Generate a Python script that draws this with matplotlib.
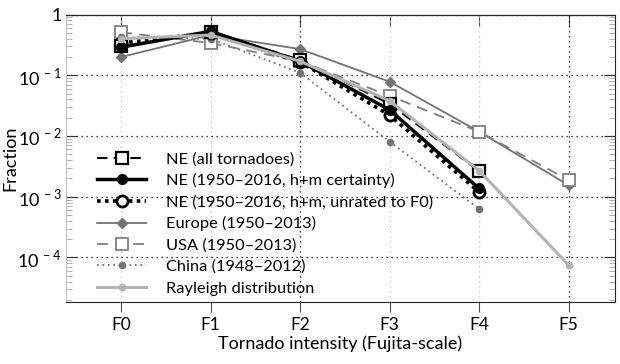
import numpy as np
import matplotlib.pyplot as plt

plt.rcParams['font.family'] = ['Lato', 'DejaVu Sans']
plt.rcParams['mathtext.fontset'] = 'custom'
plt.rcParams['mathtext.rm'] = 'Lato'

# Fujita-scale categories
categories = ['F0', 'F1', 'F2', 'F3', 'F4', 'F5']

# fractions
ne_all = [0.30, 0.52, 0.179, 0.034, 0.00265]
ne_hm = [0.29, 0.53, 0.17, 0.027, 0.00137]
ne_unrated = [0.34, 0.50, 0.165, 0.022, 0.0012]
europe = [0.20, 0.46, 0.27, 0.0785, 0.0118, 0.00155]
usa = [0.51, 0.34, 0.17, 0.046, 0.0118, 0.00188]
china = [0.42, 0.40, 0.11, 0.0081, 0.00063]
rayleigh = [0.40, 0.46, 0.17, 0.038, 0.0027, 0.000075]

labels = ['NE (all tornadoes)',
          'NE (1950\u20132016, h+m certainty)',
          'NE (1950\u20132016, h+m, unrated to F0)',
          'Europe (1950\u20132013)',
          'USA (1950\u20132013)',
          'China (1948\u20132012)',
          'Rayleigh distribution']

fig = plt.figure(figsize=(6.2, 3.64), dpi=100)
ax = fig.add_axes([0.106, 0.170, 0.886, 0.790])

x = np.arange(len(categories))

ax.plot(x[:5], ne_all, color='black', ls=(0, (5, 3)), lw=1.5, marker='s',
        ms=9, mfc='white', mec='black', mew=1.6, label=labels[0], zorder=5)
ax.plot(x[:5], ne_hm, color='black', ls='-', lw=2.5, marker='o',
        ms=7, mfc='black', mec='black', label=labels[1], zorder=6)
ax.plot(x[:5], ne_unrated, color='black', ls=(0, (1, 1.2)), lw=2.6, marker='o',
        ms=8, mfc='white', mec='black', mew=2, label=labels[2], zorder=4)
ax.plot(x, europe, color='0.45', ls='-', lw=1.3, marker='D',
        ms=5, mfc='0.45', mec='0.45', label=labels[3], zorder=3)
ax.plot(x, usa, color='0.5', ls=(0, (6, 4)), lw=1.3, marker='s',
        ms=8, mfc='white', mec='0.5', mew=1.3, label=labels[4], zorder=3)
ax.plot(x[:5], china, color='0.45', ls=(0, (1, 2)), lw=1.3, marker='o',
        ms=4.5, mfc='0.45', mec='0.45', label=labels[5], zorder=3)
ax.plot(x, rayleigh, color='0.7', ls='-', lw=2.2, marker='o',
        ms=4.5, mfc='0.7', mec='0.7', label=labels[6], zorder=7)

ax.set_yscale('log')
ax.set_ylim(10 ** -4.735, 1)
ax.set_xlim(-0.62, 5.52)
ax.set_xticks(x)
ax.set_xticklabels(categories)
ax.set_yticks([1, 1e-1, 1e-2, 1e-3, 1e-4])
ax.set_yticklabels(['1', r'$10^{\,-1}$', r'$10^{\,-2}$', r'$10^{\,-3}$', r'$10^{\,-4}$'])

ax.tick_params(axis='y', which='major', direction='in', length=8, right=True,
               labelsize=13, color='0.2', pad=3)
ax.tick_params(axis='y', which='minor', direction='in', length=4, right=True,
               color='0.65')
ax.tick_params(axis='x', direction='out', length=7, labelsize=12.5, color='0.3')

top = ax.secondary_xaxis('top')
top.set_xticks(x)
top.tick_params(direction='in', length=8, labeltop=False, color='0.3')

# dotted grid, the x lines at F2 and F5 come out darker in the figure
ax.grid(True, which='major', axis='y', color='black', ls=(0, (1, 3)), lw=0.9)
ax.grid(True, which='major', axis='x', color='0.75', ls=(0, (1, 3)), lw=0.9)
for i, gl in enumerate(ax.xaxis.get_gridlines()):
    if categories[i] in ('F2', 'F5'):
        gl.set_color('black')
ax.set_axisbelow(True)

for side in ['top', 'right', 'bottom']:
    ax.spines[side].set_color('0.15')
ax.spines['left'].set_color('0.75')

ax.set_xlabel('Tornado intensity (Fujita-scale)', fontsize=13, labelpad=2)
ax.set_ylabel('Fraction', fontsize=13)
ax.yaxis.set_label_coords(-0.086, 0.5)

ax.legend(loc='lower left', frameon=False, fontsize=11.8, handlelength=3.0,
          handletextpad=1.2, labelspacing=0.42, borderaxespad=0.0,
          bbox_to_anchor=(0.045, 0.0))

fig.savefig('out.png', dpi=100)
